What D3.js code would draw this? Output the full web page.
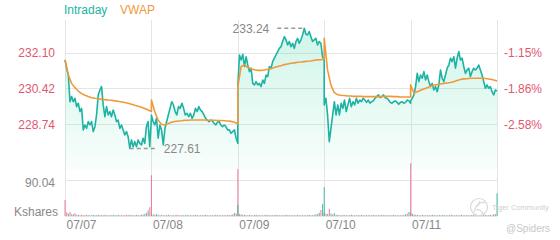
<!DOCTYPE html>
<html>
<head>
<meta charset="utf-8">
<script src="https://cdn.jsdelivr.net/npm/d3@7"></script>
<style>
  body { margin: 0; background: #fff; }
  text { font-family: "Liberation Sans", Arial, sans-serif; }
</style>
</head>
<body>
<svg id="chart" width="560" height="240"></svg>
<script>
'use strict';

// ---- data ----
const days = ['07/07', '07/08', '07/09', '07/10', '07/11'];
const priceTicks = [232.10, 230.42, 228.74];
const pctLabels = ['-1.15%', '-1.86%', '-2.58%'];
const volTicks = [90.04];

// intraday price, one array per session
const intraday1 = [231.76, 231.37, 231.05, 229.80, 230.04, 229.80, 229.96, 229.57, 229.73, 229.34, 229.49, 228.48, 228.71, 228.55, 228.87, 228.71, 228.87, 228.40, 228.63, 229.18, 230.12, 230.35, 230.51, 229.65, 229.10, 229.57, 229.18, 229.34, 229.10, 229.41, 229.18, 228.87, 228.94, 228.55, 228.71, 228.48, 228.24, 228.40, 228.16, 227.61, 228.01, 227.69, 227.93, 227.69, 228.01, 227.85, 227.77, 228.09, 227.85, 228.63, 228.87, 227.69, 229.02];
const intraday2 = [229.18, 228.87, 228.71, 229.02, 228.09, 228.71, 228.48, 227.77, 228.55, 228.87, 229.18, 229.49, 229.80, 229.65, 229.34, 229.18, 229.57, 229.49, 229.73, 229.49, 229.18, 229.26, 229.10, 229.26, 229.02, 229.18, 229.49, 229.34, 229.57, 229.41, 229.34, 229.18, 229.02, 228.94, 228.87, 228.94, 228.90, 228.79, 228.71, 228.84, 228.87, 228.71, 228.63, 228.71, 228.63, 228.48, 228.48, 228.32, 228.40, 228.48, 228.09, 227.85];
const intraday3 = [230.51, 231.99, 231.76, 232.02, 231.45, 231.91, 231.52, 231.21, 231.37, 230.66, 230.59, 230.74, 230.59, 230.66, 230.51, 230.82, 230.66, 231.05, 230.98, 231.45, 231.37, 231.68, 231.84, 231.99, 232.15, 232.30, 232.38, 232.62, 232.85, 232.70, 232.46, 232.62, 232.38, 232.54, 232.30, 232.62, 232.77, 232.54, 232.70, 232.93, 233.24, 232.96, 232.93, 233.09, 232.85, 232.62, 232.70, 232.77, 232.46, 232.62, 232.54, 231.91, 231.76];
const intraday4 = [229.65, 229.96, 229.18, 227.93, 228.55, 229.18, 229.80, 229.18, 229.65, 229.18, 229.73, 229.49, 229.88, 229.34, 229.65, 229.96, 229.57, 229.80, 229.65, 229.96, 229.73, 229.88, 229.80, 229.96, 229.88, 229.77, 229.88, 229.73, 229.80, 229.84, 229.96, 230.04, 230.12, 229.99, 230.04, 230.12, 229.99, 229.96, 229.88, 229.77, 229.73, 229.80, 229.84, 229.77, 229.68, 229.77, 229.80, 229.73, 229.77, 229.88, 229.84, 229.73];
const intraday5 = [229.84, 229.96, 230.12, 230.51, 231.13, 230.74, 231.05, 230.90, 231.21, 230.82, 231.05, 230.74, 230.51, 230.66, 230.35, 230.51, 230.27, 230.59, 231.29, 230.90, 230.74, 231.05, 231.37, 231.52, 231.84, 231.68, 231.91, 231.37, 231.84, 232.15, 231.76, 231.84, 231.45, 231.13, 231.29, 231.37, 230.98, 231.21, 231.37, 231.29, 231.37, 231.52, 231.29, 231.05, 230.74, 230.43, 230.59, 230.43, 230.51, 230.27, 230.12, 230.35, 230.30];

const vwap1 = [231.76, 231.05, 230.66, 230.46, 230.30, 230.18, 230.10, 230.04, 229.99, 229.96, 229.94, 229.91, 229.90, 229.88, 229.87, 229.84, 229.82, 229.79, 229.76, 229.73, 229.68, 229.63, 229.59, 229.54, 229.48, 229.41, 229.34];
const vwap2 = [229.88, 229.34, 228.94, 228.74, 228.71, 228.77, 228.84, 228.87, 228.90, 228.91, 228.93, 228.93, 228.94, 228.94, 228.94, 228.94, 228.94, 228.93, 228.93, 228.93, 228.92, 228.92, 228.91, 228.90, 228.88, 228.84, 228.77];
const vwap3 = [230.51, 231.45, 231.52, 231.41, 231.35, 231.30, 231.27, 231.27, 231.29, 231.32, 231.35, 231.40, 231.45, 231.49, 231.54, 231.57, 231.60, 231.62, 231.65, 231.66, 231.68, 231.70, 231.71, 231.74, 231.76, 231.77, 231.79];
const vwap4 = [232.77, 231.29, 230.59, 230.24, 230.13, 230.10, 230.09, 230.07, 230.07, 230.05, 230.05, 230.05, 230.04, 230.04, 230.04, 230.04, 230.04, 230.04, 230.05, 230.05, 230.05, 230.04, 230.04, 230.02, 230.02, 230.02, 230.02];
const vwap5 = [230.59, 230.21, 230.27, 230.34, 230.40, 230.46, 230.52, 230.57, 230.60, 230.63, 230.66, 230.68, 230.70, 230.74, 230.79, 230.84, 230.87, 230.88, 230.90, 230.90, 230.90, 230.90, 230.90, 230.88, 230.85, 230.82, 230.77];

// volume in Kshares, negative = down tick (red), positive = up tick (teal)
const volume1 = [-40, -9, 6, -10, -5, 4, -7, -3, 3, -2, -3, 2, -2, 3, -2, 2, -2, 3, 2, -2, 3, -2, 2, -2, -3, 2, -2, 2, -2, 3, -2, 2, -3, 2, -2, 2, -2, -3, 2, -3, 2, -2, 2, -3, 2, -2, 3, -4, 5, -8, 14, -22, -102];
const volume2 = [-6, 4, -3, 5, -3, 2, -3, 2, -2, 2, 3, -2, 2, -2, 2, -3, 2, -2, 2, -2, 2, 3, -2, 2, -2, 2, -3, 2, -2, 2, -2, 2, 3, -2, 2, -2, 2, -2, 3, -2, 2, -2, 2, -2, 2, -3, 2, -3, 4, -8, 6, -117];
const volume3 = [28, -5, 4, -3, 3, -2, 2, -3, 2, -2, 2, 3, -2, 2, -2, 2, -2, 3, 2, -2, 2, -2, 2, 3, -2, 2, -2, 2, -2, 3, -2, 2, -2, 2, -2, 2, -3, 2, -2, 2, -2, 2, -2, 3, -2, 2, -3, 4, -5, 8, -15, 30, 72];
const volume4 = [8, -6, 5, -18, 6, -4, 7, 3, -3, 2, -2, 3, -2, 2, -2, 2, 3, -2, 2, -2, 2, -2, 3, -2, 2, -2, 2, -2, 2, -3, 2, -2, 2, -2, 3, -2, 2, -2, 2, -2, 2, -3, 2, -2, 2, -2, 2, -3, 4, -6, 10, -132];
const volume5 = [-8, 5, -4, 3, -3, 2, -2, 3, 2, -2, 2, -2, 2, 3, -2, 2, -2, 2, -2, 3, -2, 2, 2, -2, 3, -2, 2, -2, 2, -2, 3, -2, 2, -2, 2, -2, 2, 3, -2, 2, -2, 2, -2, 2, -3, 2, -2, 3, -2, 4, -5, 57];

const intraday = [intraday1, intraday2, intraday3, intraday4, intraday5];
const vwap = [vwap1, vwap2, vwap3, vwap4, vwap5];
const volume = [volume1, volume2, volume3, volume4, volume5];

// ---- layout ----
const plotLeft = 65, plotRight = 497, plotTop = 20, priceBottom = 170, volTop = 180, volBottom = 216;
const teal = '#1db3a3', orange = '#f0993a', red = '#e2576f', grey = '#888';

const svg = d3.select('#chart');

const x = d3.scaleLinear().domain([0, days.length]).range([plotLeft, plotRight]);
const yPrice = d3.scaleLinear().domain([226.60, 233.63]).range([priceBottom, plotTop]);
const yVol = d3.scaleLinear().domain([0, 90.04]).range([volBottom, volTop]);

// turn per-session arrays into points on a continuous session axis
function toPoints(sessions) {
    return sessions.flatMap((s, d) => s.map((v, i) => ({ t: d + i / (s.length - 1), v: v })));
}
let pricePts = toPoints(intraday);
let vwapPts = toPoints(vwap);
let volPts = toPoints(volume);

// gradient for the area under the price line
let grad = svg.append('defs').append('linearGradient')
    .attr('id', 'mint')
    .attr('gradientUnits', 'userSpaceOnUse')
    .attr('x1', 0).attr('x2', 0)
    .attr('y1', plotTop).attr('y2', priceBottom);
grad.append('stop').attr('offset', 0).attr('stop-color', '#2fd3a0').attr('stop-opacity', 0.24);
grad.append('stop').attr('offset', 1).attr('stop-color', '#2fd3a0').attr('stop-opacity', 0.03);

// grid
let grid = svg.append('g').attr('stroke', '#e5e5e5').attr('stroke-width', 1);
grid.selectAll('line.v')
    .data(d3.range(days.length + 1))
    .join('line')
    .attr('class', 'v')
    .attr('x1', d => Math.round(x(d)) + 0.5).attr('x2', d => Math.round(x(d)) + 0.5)
    .attr('y1', plotTop).attr('y2', volBottom);
grid.selectAll('line.h')
    .data(priceTicks.map(yPrice).concat(volTicks.map(yVol), [volBottom]))
    .join('line')
    .attr('class', 'h')
    .attr('x1', plotLeft).attr('x2', plotRight)
    .attr('y1', d => Math.round(d) + 0.5).attr('y2', d => Math.round(d) + 0.5);

// area + lines
svg.append('path')
    .datum(pricePts)
    .attr('fill', 'url(#mint)')
    .attr('d', d3.area().x(d => x(d.t)).y0(priceBottom).y1(d => yPrice(d.v)));

svg.append('path')
    .datum(pricePts)
    .attr('fill', 'none')
    .attr('stroke', teal)
    .attr('stroke-width', 1.6)
    .attr('stroke-linejoin', 'round')
    .attr('d', d3.line().x(d => x(d.t)).y(d => yPrice(d.v)));

svg.append('path')
    .datum(vwapPts)
    .attr('fill', 'none')
    .attr('stroke', orange)
    .attr('stroke-width', 1.6)
    .attr('stroke-linejoin', 'round')
    .attr('d', d3.line().x(d => x(d.t)).y(d => yPrice(d.v)));

// volume bars
svg.append('g').selectAll('rect')
    .data(volPts)
    .join('rect')
    .attr('x', d => x(d.t) - 0.5)
    .attr('width', 1.1)
    .attr('y', d => yVol(Math.abs(d.v)))
    .attr('height', d => volBottom - yVol(Math.abs(d.v)))
    .attr('fill', d => d.v < 0 ? '#f07088' : '#35b8a8')
    .attr('opacity', 0.85);

// axes
let leftAxis = svg.append('g')
    .attr('transform', `translate(${plotLeft - 7},0)`)
    .call(d3.axisLeft(yPrice).tickValues(priceTicks).tickSize(0).tickFormat(d3.format('.2f')));
leftAxis.selectAll('text').attr('fill', red).style('font-size', '12px');

let rightAxis = svg.append('g')
    .attr('transform', `translate(${plotRight + 4},0)`)
    .call(d3.axisRight(yPrice).tickValues(priceTicks).tickSize(0).tickFormat((d, i) => pctLabels[i]));
rightAxis.selectAll('text').attr('fill', red).style('font-size', '12px');

let volAxis = svg.append('g')
    .attr('transform', `translate(${plotLeft - 7},3)`)
    .call(d3.axisLeft(yVol).tickValues(volTicks).tickSize(0).tickFormat(d3.format('.2f')));
volAxis.selectAll('text').attr('fill', grey).style('font-size', '12px');

let bottomAxis = svg.append('g')
    .attr('transform', `translate(0,${volBottom})`)
    .call(d3.axisBottom(x).tickValues(d3.range(days.length)).tickSize(0).tickFormat(i => days[i]));
bottomAxis.selectAll('text')
    .attr('text-anchor', 'start')
    .attr('dx', '1')
    .attr('y', 4)
    .attr('fill', grey)
    .style('font-size', '12px');

svg.selectAll('.domain').remove();

svg.append('text')
    .attr('x', plotLeft - 7).attr('y', volBottom)
    .attr('text-anchor', 'end')
    .attr('fill', grey)
    .style('font-size', '12px')
    .text('Kshares');

// legend
svg.append('text').attr('x', 64).attr('y', 14).attr('fill', teal).style('font-size', '12px').text('Intraday');
svg.append('text').attr('x', 120).attr('y', 14).attr('fill', orange).style('font-size', '12px').text('VWAP');

// high / low markers
let hi = pricePts.reduce((a, b) => b.v > a.v ? b : a);
let lo = pricePts.reduce((a, b) => b.v < a.v ? b : a);

let hx = x(hi.t), hy = yPrice(hi.v);
svg.append('line')
    .attr('x1', hx - 2).attr('x2', hx - 30).attr('y1', hy).attr('y2', hy)
    .attr('stroke', '#999').attr('stroke-width', 1.5).attr('stroke-dasharray', '4,3');
svg.append('text')
    .attr('x', hx - 35).attr('y', Math.max(hy, plotTop + 4.5))
    .attr('dy', '0.35em')
    .attr('text-anchor', 'end')
    .attr('fill', grey)
    .style('font-size', '12px')
    .text(hi.v.toFixed(2));

let lx = x(lo.t), ly = yPrice(lo.v);
svg.append('line')
    .attr('x1', lx).attr('x2', lx + 28).attr('y1', ly).attr('y2', ly)
    .attr('stroke', '#999').attr('stroke-width', 1.5).attr('stroke-dasharray', '4,3');
svg.append('text')
    .attr('x', lx + 34).attr('y', ly)
    .attr('dy', '0.35em')
    .attr('fill', grey)
    .style('font-size', '12px')
    .text(lo.v.toFixed(2));

// watermark
let wm = svg.append('g').attr('fill', 'none').attr('stroke', '#d9d9d9').attr('stroke-width', 1.2);
wm.append('circle').attr('cx', 479).attr('cy', 207).attr('r', 8.5);
wm.append('path').attr('d', 'M474,212 C476,204 481,201 485,203 M476,210 C479,209 482,211 483,214 M480,201 L478,206');
svg.append('text').attr('x', 492).attr('y', 210).attr('fill', '#cfcfcf').style('font-size', '7.5px').text('Tiger Community');
svg.append('text').attr('x', 506).attr('y', 232).attr('fill', '#c8c8c8').style('font-size', '10px').text('@Spiders');
</script>
</body>
</html>
